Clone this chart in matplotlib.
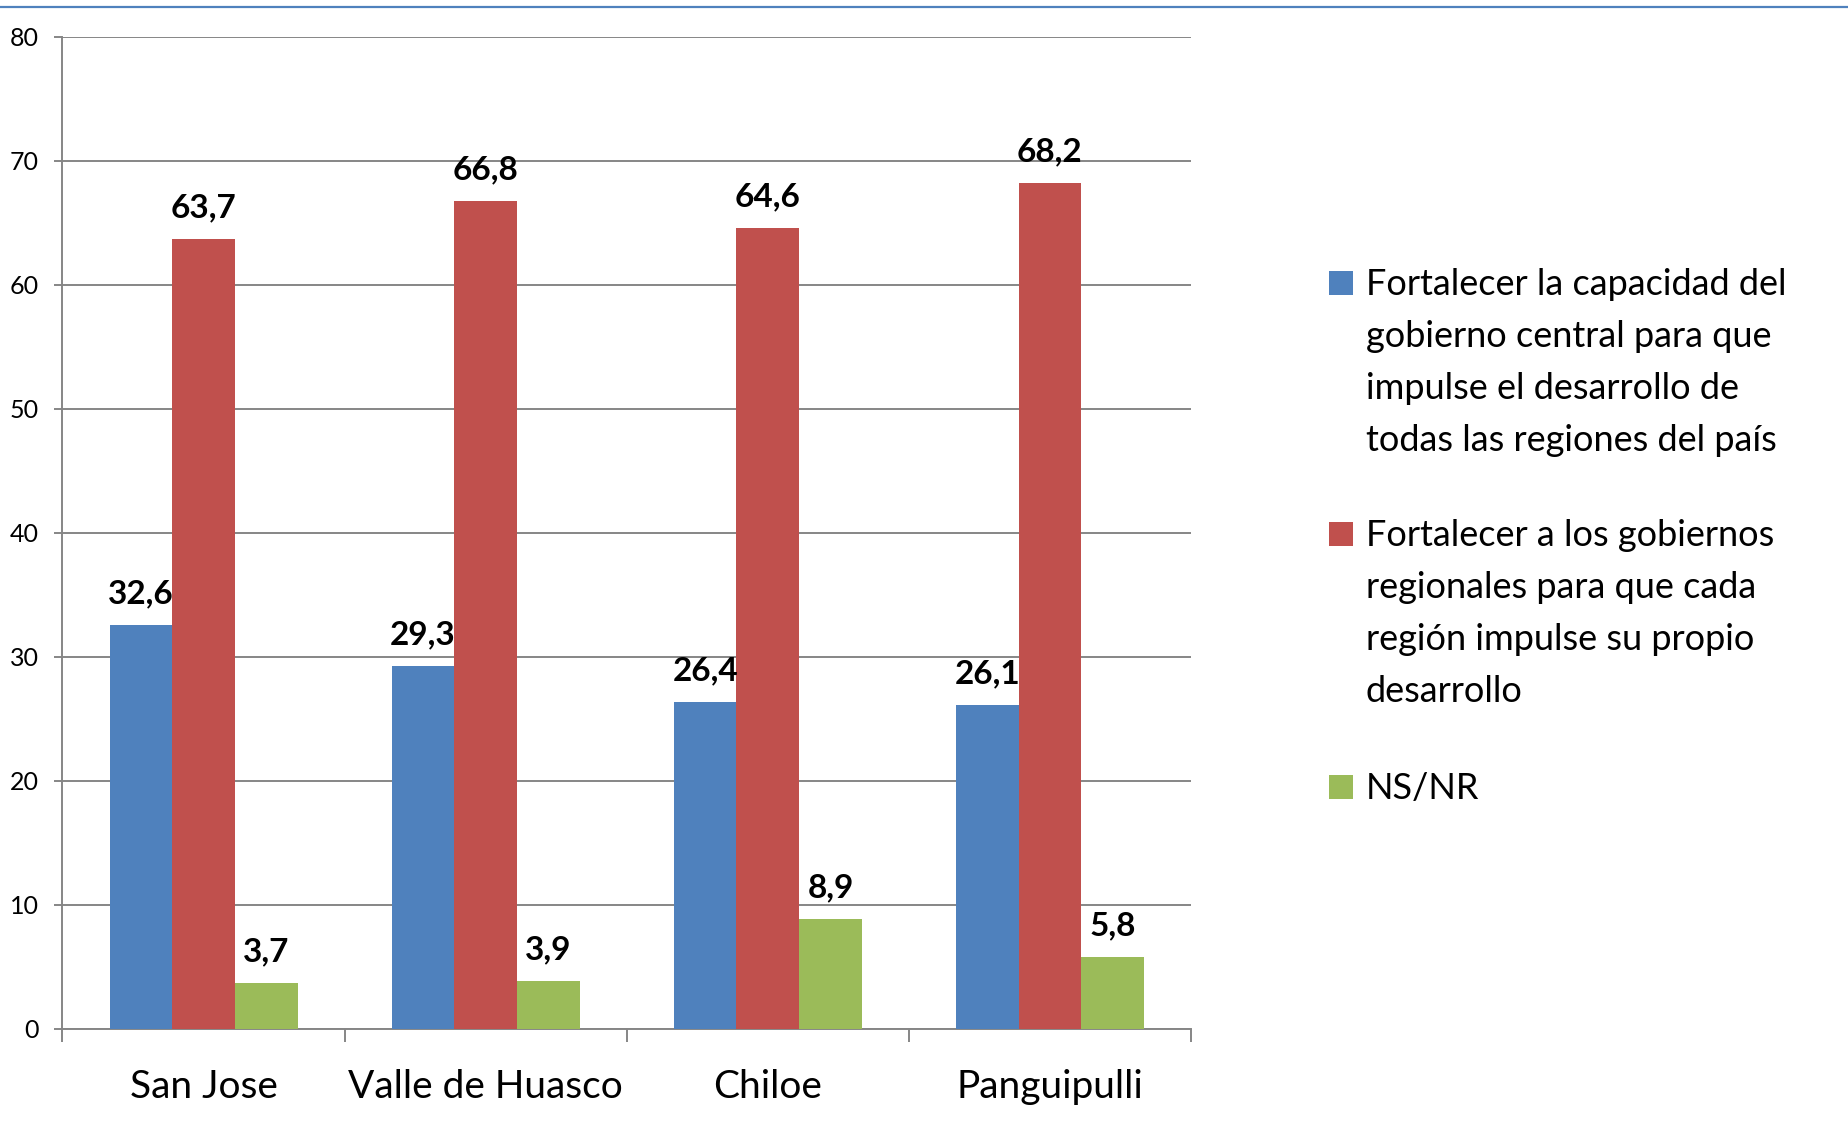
import matplotlib.pyplot as plt
import numpy as np
from matplotlib.lines import Line2D
from matplotlib.patches import Rectangle

plt.rcParams['font.family'] = ['Lato', 'DejaVu Sans']

categories = ["San Jose", "Valle de Huasco", "Chiloe", "Panguipulli"]
central = [32.6, 29.3, 26.4, 26.1]
regional = [63.7, 66.8, 64.6, 68.2]
nsnr = [3.7, 3.9, 8.9, 5.8]
series_labels = [
    ["Fortalecer la capacidad del", "gobierno central para que",
     "impulse el desarrollo de", "todas las regiones del país"],
    ["Fortalecer a los gobiernos", "regionales para que cada",
     "región impulse su propio", "desarrollo"],
    ["NS/NR"],
]
colors = ['#4F81BD', '#C0504D', '#9BBB59']
yticks = [0, 10, 20, 30, 40, 50, 60, 70, 80]

W, H = 1849, 1121
fig = plt.figure(figsize=(W / 100, H / 100), dpi=100)
ax = fig.add_axes([62.5 / W, 1 - 1029 / H, (1191 - 62.5) / W, (1029 - 37) / H])

x = np.arange(len(categories))
w = 0.222
for i, vals in enumerate([central, regional, nsnr]):
    bars = ax.bar(x + (i - 1) * w, vals, width=w, color=colors[i], zorder=3)
    for b, v in zip(bars, vals):
        ax.annotate(f"{v:.1f}".replace('.', ','),
                    (b.get_x() + b.get_width() / 2, b.get_height()),
                    xytext=(0, 12), textcoords='offset points',
                    ha='center', va='bottom', fontsize=24, fontweight='bold', zorder=4)

ax.set_xlim(-0.5, len(categories) - 0.5)
ax.set_ylim(0, 80)
ax.set_yticks(yticks)
ax.set_yticklabels([str(t) for t in yticks], fontsize=18)
ax.yaxis.grid(True, color='#868686', linewidth=1.4, zorder=0)
ax.set_axisbelow(True)

ax.set_xticks(x)
ax.set_xticklabels(categories, fontsize=28)
ax.set_xticks(np.arange(-0.5, len(categories)), minor=True)
ax.tick_params(axis='x', which='major', length=0, pad=28.5)
ax.tick_params(axis='x', which='minor', length=9, width=1.4, color='#868686')
ax.tick_params(axis='y', length=6, width=1.4, color='#868686', pad=11)

for s in ['top', 'right']:
    ax.spines[s].set_visible(False)
for s in ['left', 'bottom']:
    ax.spines[s].set_color('#868686')
    ax.spines[s].set_linewidth(1.4)

# legend drawn by hand so line spacing matches the original
first_baselines = [295, 546, 799]
line_step = 52
for color, lines, base in zip(colors, series_labels, first_baselines):
    fig.add_artist(Rectangle((1329 / W, 1 - base / H), 24 / W, 24 / H,
                             transform=fig.transFigure, facecolor=color, edgecolor='none'))
    for k, line in enumerate(lines):
        fig.text(1366 / W, 1 - (base + k * line_step) / H, line,
                 fontsize=26, ha='left', va='baseline')

fig.add_artist(Line2D([0, 1], [1 - 7 / H, 1 - 7 / H], transform=fig.transFigure,
                      color='#4F81BD', linewidth=1.6))

fig.savefig('out.png', dpi=100)
